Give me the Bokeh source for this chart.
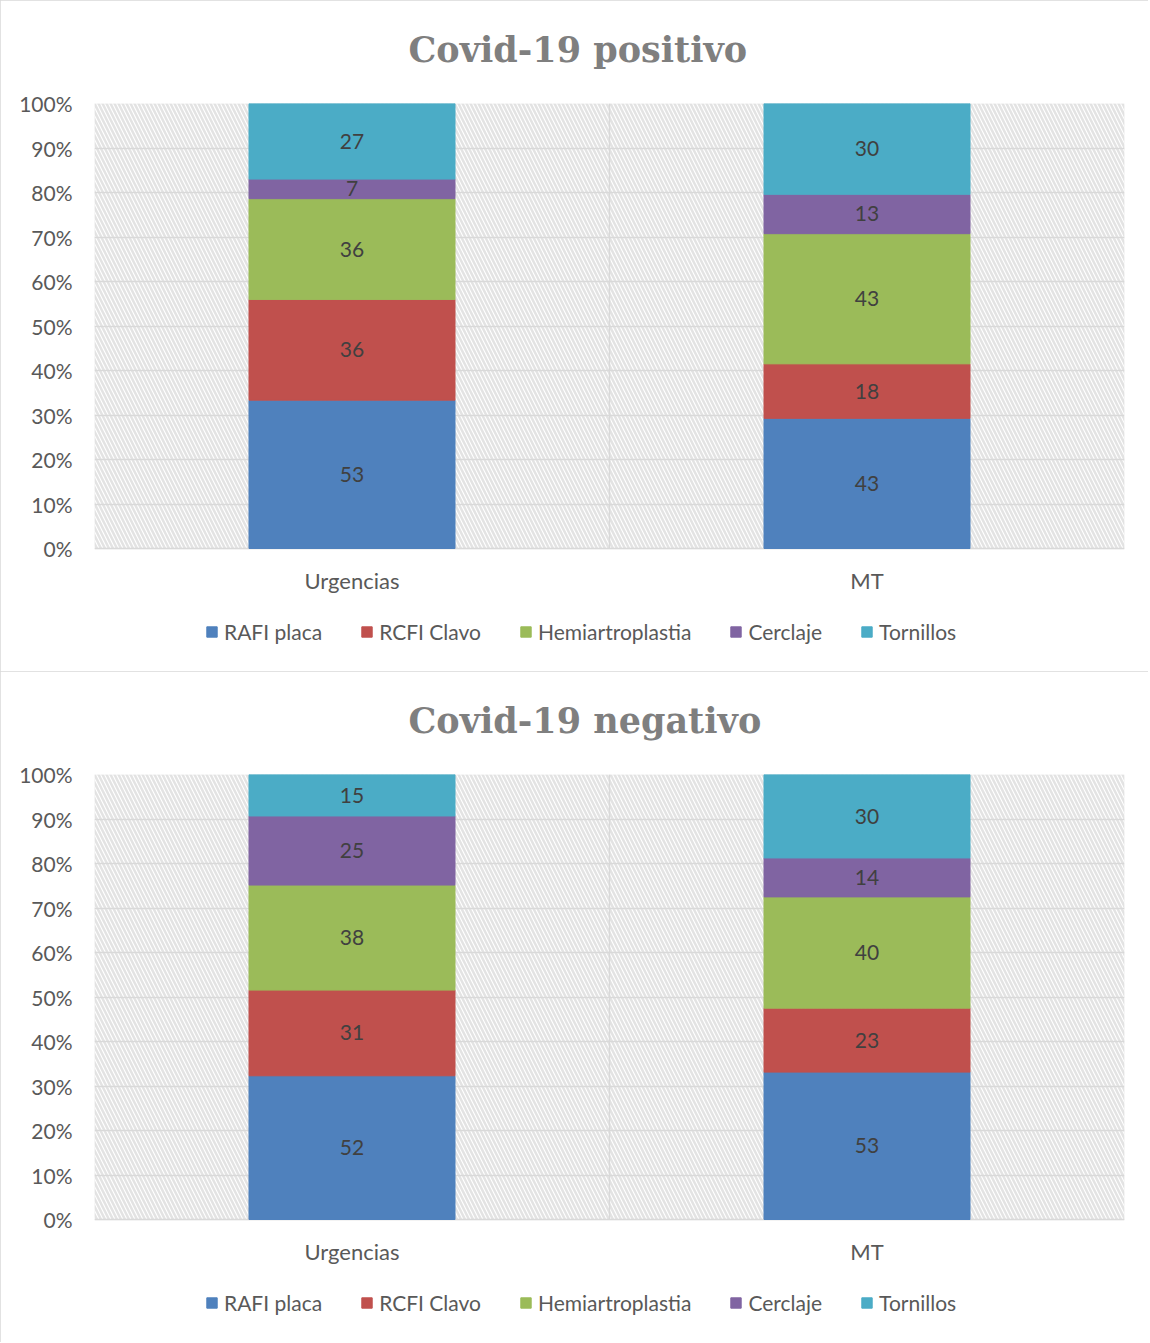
from bokeh.plotting import figure
from bokeh.models import (ColumnDataSource, FactorRange, NumeralTickFormatter, FixedTicker,
                          Legend, LegendItem, BoxAnnotation, Title)
from bokeh.layouts import column
from bokeh.embed import file_html
from bokeh.resources import INLINE
from bokeh.core.properties import value

categories = ["Urgencias", "MT"]
series = ["RAFI placa", "RCFI Clavo", "Hemiartroplastia", "Cerclaje", "Tornillos"]
colors = ["#4F81BD", "#C0504D", "#9BBB59", "#8064A2", "#4BACC6"]
y_ticks = [0.0, 0.1, 0.2, 0.3, 0.4, 0.5, 0.6, 0.7, 0.8, 0.9, 1.0]

# Covid-19 positivo (counts per category: Urgencias, MT)
pos_rafi = [53, 43]
pos_rcfi = [36, 18]
pos_hemi = [36, 43]
pos_cerc = [7, 13]
pos_torn = [27, 30]

# Covid-19 negativo
neg_rafi = [52, 53]
neg_rcfi = [31, 23]
neg_hemi = [38, 40]
neg_cerc = [25, 14]
neg_torn = [15, 30]

LABEL_FONT = "Lato"
TEXT_GRAY = "#595959"
GRID = "#d9d9d9"
BAR_H = 445          # pixels between 0% and 100%
EXTRA = 112          # room below the 0% line for category labels and legend


def make_chart(title, counts):
    totals = [sum(c[i] for c in counts) for i in range(len(categories))]
    data = {"cat": categories}
    keys = []
    for k, vals in enumerate(counts):
        key = "s%d" % k
        data[key] = [v / t for v, t in zip(vals, totals)]
        keys.append(key)
    src = ColumnDataSource(data)

    p = figure(x_range=FactorRange(*categories),
               y_range=(-EXTRA / BAR_H, 1),
               frame_width=1030, frame_height=BAR_H + EXTRA,
               output_backend="svg", toolbar_location=None,
               min_border_left=94, min_border_right=24,
               min_border_top=103, min_border_bottom=11)
    p.styles = {"outline": "1px solid #d9d9d9", "outline-offset": "-1px"}

    # spacer (closest to the frame), then the visible title above it
    p.add_layout(Title(text=" ", text_font_size="20px", standoff=10,
                       text_color="#ffffff"), "above")
    p.add_layout(Title(text=title, text_font="DejaVu Serif", text_font_style="bold",
                       text_font_size="35px", text_color="#7f7f7f", align="left",
                       offset=314, standoff=0), "above")

    p.outline_line_color = None

    hatch = BoxAnnotation(bottom=0, top=1, fill_alpha=0, line_color=None,
                          hatch_pattern="\\", hatch_color="#e3e3e3",
                          hatch_scale=8, hatch_weight=2.5, level="image")
    p.add_layout(hatch)
    border = BoxAnnotation(bottom=0, top=1, fill_alpha=0, line_color=GRID,
                           line_width=1.5, level="underlay")
    p.add_layout(border)

    p.xgrid.grid_line_color = None
    p.ygrid.ticker = FixedTicker(ticks=y_ticks)
    p.ygrid.grid_line_color = GRID
    p.ygrid.grid_line_width = 1.5
    p.segment(x0=[1.0], y0=[0], x1=[1.0], y1=[1], line_color=GRID, line_width=1.5,
              level="underlay")

    renderers = p.vbar_stack(keys, x="cat", width=0.4, color=colors, source=src)

    lx, ly, lt = [], [], []
    for i, cat in enumerate(categories):
        cum = 0.0
        for vals in counts:
            f = vals[i] / totals[i]
            lx.append(cat)
            ly.append(cum + f / 2)
            lt.append(str(vals[i]))
            cum += f
    p.text(x=lx, y=ly, text=lt, text_font=value(LABEL_FONT), text_font_size="21px",
           text_color="#404040", text_align="center", text_baseline="middle")

    # category labels under the bars
    p.text(x=categories, y=[-32 / BAR_H] * len(categories), text=categories,
           text_font=value(LABEL_FONT), text_font_size="22px", text_color=TEXT_GRAY,
           text_align="center", text_baseline="middle")
    p.xaxis.visible = False

    p.yaxis.ticker = FixedTicker(ticks=y_ticks)
    p.yaxis.formatter = NumeralTickFormatter(format="0%")
    ax = p.yaxis[0]
    ax.axis_line_color = None
    ax.major_tick_line_color = None
    ax.minor_tick_line_color = None
    ax.major_tick_out = 0
    ax.major_label_text_font = LABEL_FONT
    ax.major_label_text_font_size = "21px"
    ax.major_label_text_color = TEXT_GRAY
    ax.major_label_standoff = 22

    items = [LegendItem(label=name, renderers=[r]) for name, r in zip(series, renderers)]
    legend = Legend(items=items, orientation="horizontal", location=(111, 16),
                    label_text_font=LABEL_FONT, label_text_font_size="21px",
                    label_text_color=TEXT_GRAY, glyph_width=13, glyph_height=13,
                    spacing=38, label_standoff=6, border_line_color=None,
                    background_fill_alpha=0, padding=0, margin=0)
    p.add_layout(legend)
    return p


p1 = make_chart("Covid-19 positivo", [pos_rafi, pos_rcfi, pos_hemi, pos_cerc, pos_torn])
p2 = make_chart("Covid-19 negativo", [neg_rafi, neg_rcfi, neg_hemi, neg_cerc, neg_torn])

layout = column(p1, p2, spacing=0)
open("out.html", "w").write(file_html(layout, INLINE))
